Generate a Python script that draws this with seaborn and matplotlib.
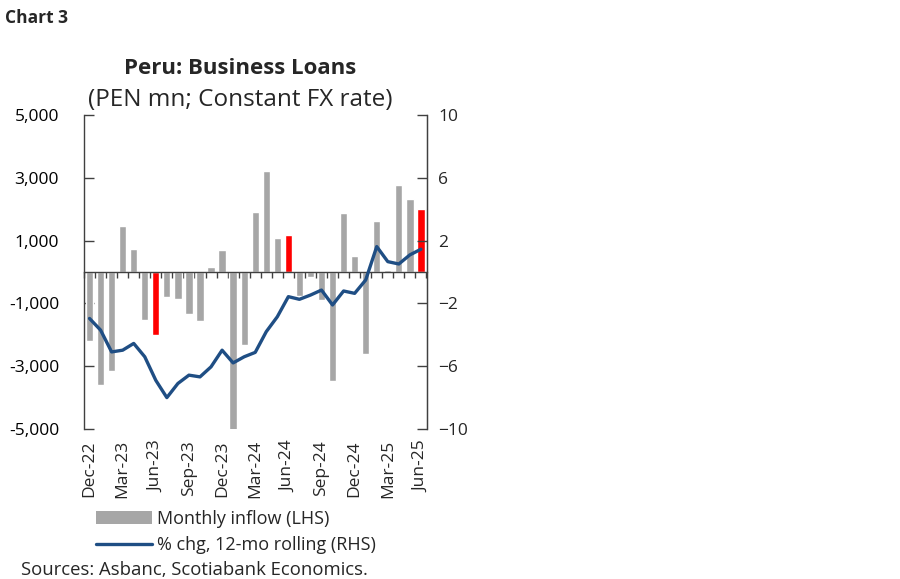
import numpy as np
import pandas as pd
import matplotlib
matplotlib.use("Agg")
import matplotlib.pyplot as plt
import seaborn as sns
from matplotlib.patches import Patch
from matplotlib.lines import Line2D

# Data
months = ['Dec-22', 'Jan-23', 'Feb-23', 'Mar-23', 'Apr-23', 'May-23', 'Jun-23',
          'Jul-23', 'Aug-23', 'Sep-23', 'Oct-23', 'Nov-23', 'Dec-23',
          'Jan-24', 'Feb-24', 'Mar-24', 'Apr-24', 'May-24', 'Jun-24',
          'Jul-24', 'Aug-24', 'Sep-24', 'Oct-24', 'Nov-24', 'Dec-24',
          'Jan-25', 'Feb-25', 'Mar-25', 'Apr-25', 'May-25', 'Jun-25']
monthly_inflow = [-2200, -3590, -3150, 1450, 745, -1530, -2010,
                  -790, -860, -1330, -1560, 160, 700,
                  -5070, -2310, 1900, 3210, 1075, 1190,
                  -770, -150, -900, -3480, 1870, 510,
                  -2620, 1620, 60, 2780, 2340, 2010]
pct_chg = [-2.96, -3.7, -5.09, -4.98, -4.55, -5.4, -6.9,
           -8.0, -7.1, -6.57, -6.68, -6.04, -4.98,
           -5.79, -5.4, -5.12, -3.8, -2.85, -1.57,
           -1.74, -1.47, -1.15, -2.1, -1.21, -1.36,
           -0.51, 1.62, 0.66, 0.51, 1.09, 1.45]
highlight = ['Jun-23', 'Jun-24', 'Jun-25']
label_months = months[::3]

df = pd.DataFrame({'month': months, 'inflow': monthly_inflow, 'pct': pct_chg})
df['pos'] = np.arange(len(df))

sns.set_style('white')
plt.rcParams['font.family'] = ['Open Sans', 'DejaVu Sans']

GRAY = '#a6a6a6'
RED = '#ff0000'
NAVY = '#1f4e84'
AXC = '#404040'
FS = 12.5

fig = plt.figure(figsize=(9, 5.79), dpi=100)
ax = fig.add_axes([84 / 900, 1 - 429 / 579, 343 / 900, 314 / 579])

palette = {m: (RED if m in highlight else GRAY) for m in months}
sns.barplot(data=df, x='month', y='inflow', hue='month', palette=palette,
            legend=False, width=0.66, ax=ax, saturation=1)
ax.set_xlim(-0.5, len(months) - 0.45)
ax.set_ylim(-5000, 5000)
ax.set_yticks(np.arange(-5000, 5001, 2000))
ax.set_yticklabels([f'{v:,}' for v in range(-5000, 5001, 2000)])
ax.set_xlabel('')
ax.set_ylabel('')

# x axis line at zero with month boundary ticks
ax.spines['bottom'].set_position(('data', 0))
ax.set_xticks(np.arange(-0.5, len(months), 1.0))
ax.set_xticklabels([])
ax.tick_params(axis='x', direction='out', length=4, width=1, color=AXC, bottom=True)
ax.tick_params(axis='y', direction='in', length=7, width=1, color=AXC,
               labelsize=FS, labelcolor='black', left=True, pad=18)
for s in ['left', 'right', 'bottom']:
    ax.spines[s].set_color(AXC)
    ax.spines[s].set_linewidth(1)
ax.spines['top'].set_visible(False)

# month labels along the bottom
sec = ax.secondary_xaxis(0)
sec.set_xticks([months.index(m) for m in label_months])
sec.set_xticklabels(label_months, rotation=90, fontsize=FS)
sec.tick_params(length=0, pad=8)
sec.spines['bottom'].set_visible(False)

ax2 = ax.twinx()
sns.lineplot(data=df, x='pos', y='pct', color=NAVY, linewidth=2.4, ax=ax2,
             solid_joinstyle='round', solid_capstyle='round')
ax2.set_ylim(-10, 10)
ax2.set_yticks(np.arange(-10, 11, 4))
ax2.set_ylabel('')
ax2.set_xlabel('')
ax2.tick_params(axis='y', direction='in', length=7, width=1, color=AXC,
                labelsize=FS, right=True, pad=8)
for s in ['left', 'top', 'bottom']:
    ax2.spines[s].set_visible(False)
ax2.spines['right'].set_color(AXC)

fig.text(5 / 900, 1 - 18 / 579, 'Chart 3', fontsize=12.5, fontweight='bold', va='center')
fig.text(240 / 900, 1 - 68 / 579, 'Peru: Business Loans', fontsize=16,
         fontweight='bold', ha='center', va='center')
fig.text(240 / 900, 1 - 100 / 579, '(PEN mn; Constant FX rate)', fontsize=17.5,
         ha='center', va='center')

handles = [Patch(facecolor=GRAY, edgecolor='none'),
           Line2D([0], [0], color=NAVY, linewidth=2.4)]
fig.legend(handles, ['Monthly inflow (LHS)', '% chg, 12-mo rolling (RHS)'],
           loc='upper left', bbox_to_anchor=(96 / 900, 1 - 510 / 579),
           frameon=False, fontsize=13, handlelength=3.1, handletextpad=0.3,
           labelspacing=0.45, borderaxespad=0, borderpad=0)
fig.text(21 / 900, 1 - 570 / 579, 'Sources: Asbanc, Scotiabank Economics.',
         fontsize=13.3, va='center')

fig.savefig('out.png', dpi=100)
